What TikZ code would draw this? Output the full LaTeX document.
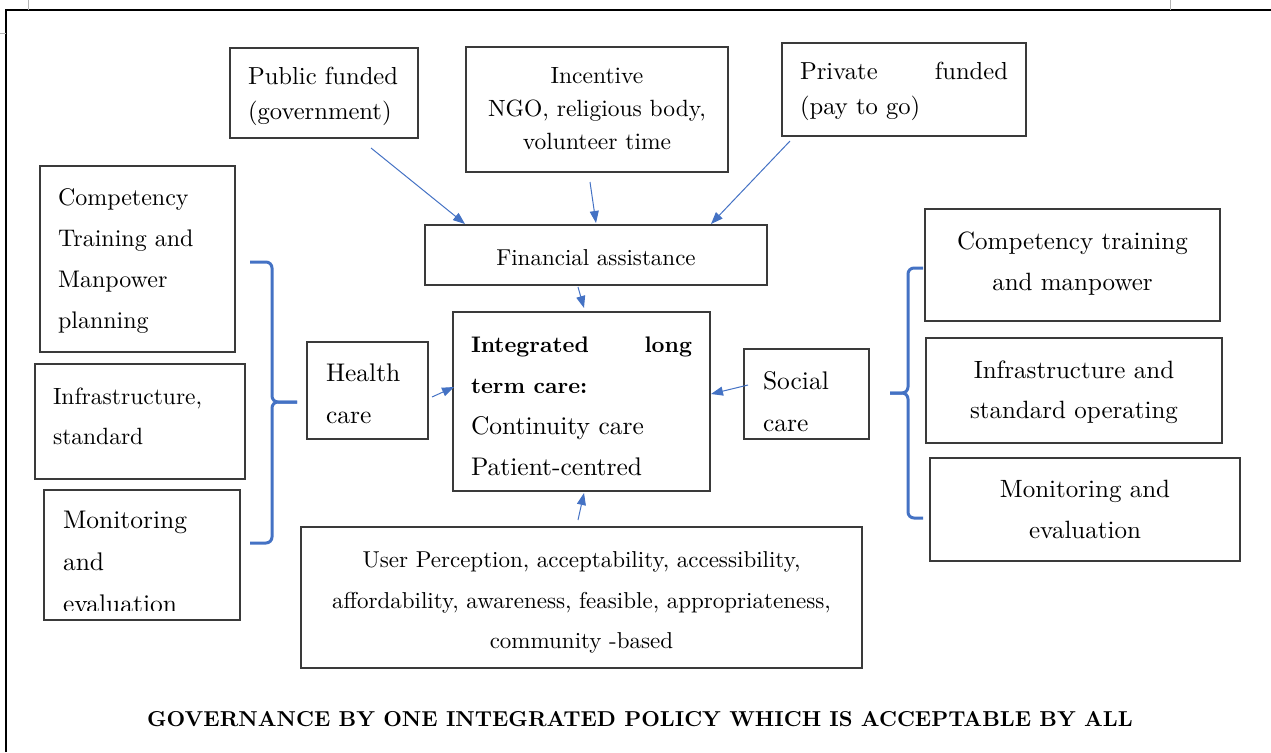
\documentclass[tikz,border=0pt]{standalone}
\usepackage{tikz}
\usetikzlibrary{arrows.meta}
% Latin Modern con el diseno de 10pt en todos los tamanos
\DeclareFontFamily{TU}{lmx}{}
\DeclareFontShape{TU}{lmx}{m}{n}{<-> "[lmroman10-regular]:mapping=tex-text"}{}
\DeclareFontShape{TU}{lmx}{bx}{n}{<-> "[lmroman10-bold]:mapping=tex-text"}{}
\DeclareFontShape{TU}{lmx}{b}{n}{<-> ssub * lmx/bx/n}{}
\renewcommand\rmdefault{lmx}
\definecolor{azulllave}{HTML}{4472C4}
\definecolor{grisborde}{HTML}{3A3A3A}
\definecolor{grismarca}{HTML}{B4B4B4}

\begin{document}
\begin{tikzpicture}[x=1pt, y=-1pt,
  box/.style={draw=grisborde, line width=1.1pt, anchor=north west,
    inner ysep=0pt, outer sep=0pt},
  izq/.style={box, align=left, inner xsep=18pt},
  cen/.style={box, align=center, inner xsep=10pt},
  flecha/.style={draw=azulllave, line width=1pt, -{Triangle[length=12pt,width=9pt]}},
  llave/.style={draw=azulllave, line width=3pt, rounded corners=6pt}
]
\useasboundingbox (0,0) rectangle (1271,752);

% marco de la pagina
\draw[line width=1.3pt] (6,752) -- (6,10) -- (1271,10);
\draw[grismarca, line width=0.6pt] (28,0) -- (28,10);
\draw[grismarca, line width=0.6pt] (0,33) -- (6,33);
\draw[grismarca, line width=0.6pt] (1170,0) -- (1170,10);

% financiacion
\node[izq, text width=152pt, minimum height=90pt, text height=25pt,
  font=\fontsize{24.6}{35}\selectfont]
  (pub) at (230,48) {Public funded\\(government)};
\node[cen, text width=242pt, minimum height=125pt, text height=14pt,
  font=\fontsize{23.5}{33}\selectfont]
  (inc) at (466,47) {Incentive\\NGO, religious body,\\volunteer time};
\node[izq, text width=208pt, minimum height=93pt, text height=21pt,
  font=\fontsize{24.6}{35}\selectfont]
  (priv) at (782,43) {Private\hfill funded\\(pay to go)};
\node[cen, text width=322pt, minimum height=60pt, text height=22pt,
  font=\fontsize{23}{30}\selectfont]
  (fin) at (425,225) {Financial assistance};

% centro
\node[izq, text width=221pt, minimum height=179pt, text height=25.6pt,
  font=\fontsize{25.5}{41}\selectfont]
  (integ) at (453,312) {{\fontsize{22.5}{41}\selectfont\bfseries Integrated\hfill long}\\
  {\fontsize{22.5}{41}\selectfont\bfseries term care:}\\Continuity care\\Patient-centred};
\node[izq, inner xsep=19pt, text width=83pt, minimum height=97pt, text height=23.7pt,
  font=\fontsize{25.5}{42}\selectfont]
  (health) at (307,342) {Health\\care};
\node[izq, inner xsep=19pt, text width=87pt, minimum height=90pt, text height=33.7pt,
  font=\fontsize{25.5}{42}\selectfont]
  (social) at (744,349) {Social\\care};
\node[cen, text width=541pt, minimum height=141pt, text height=26pt,
  font=\fontsize{23}{40.5}\selectfont]
  (user) at (301,527) {User Perception, acceptability, accessibility,\\
  affordability, awareness, feasible, appropriateness,\\community -based};

% lado izquierdo
\node[izq, text width=159pt, minimum height=186pt, text height=20.4pt,
  font=\fontsize{24}{41}\selectfont]
  (compL) at (40,166) {Competency\\Training and\\Manpower\\planning};
\node[izq, text width=174pt, minimum height=115pt, text height=6.3pt,
  font=\fontsize{23.5}{40}\selectfont]
  (infraL) at (35,364) {Infrastructure,\\standard};
\node[box, minimum width=196pt, minimum height=130pt] (monL) at (44,490) {};
\begin{scope}
  \clip (monL.north west) rectangle ([shift={(0,-10)}]monL.south east);
  \node[align=left, text width=170pt, inner sep=0pt, font=\fontsize{25.5}{42}\selectfont]
    (monLtxt) at (148,562) {Monitoring\\and\\evaluation};
\end{scope}

% lado derecho
\node[cen, text width=275pt, minimum height=112pt, text height=15pt,
  font=\fontsize{25}{41}\selectfont]
  (compR) at (925,209) {Competency training\\and manpower};
\node[cen, text width=276pt, minimum height=105pt, text height=20.4pt,
  font=\fontsize{25}{40}\selectfont]
  (infraR) at (926,338) {Infrastructure and\\standard operating};
\node[cen, text width=290pt, minimum height=103pt, font=\fontsize{25}{41}\selectfont]
  (monR) at (930,458) {Monitoring and\\evaluation};

% llaves
\draw[llave] (250,262) -- (272,262) -- (272,402) -- (297,402);
\draw[llave] (297,402) -- (272,402) -- (272,543) -- (250,543);
\draw[llave] (923,268) -- (908,268) -- (908,393) -- (890,393);
\draw[llave] (890,393) -- (908,393) -- (908,518) -- (923,518);

% flechas
\draw[flecha] ([shift={(47,10)}]pub.south) -- ([shift={(40,-1)}]fin.north west);
\draw[flecha] ([shift={(-7,10)}]inc.south) -- ([shift={(0,-2)}]fin.north);
\draw[flecha] ([shift={(8,5)}]priv.south west) -- ([shift={(-56,-1)}]fin.north east);
\draw[flecha] ([shift={(-18,2)}]fin.south) -- ([shift={(2.5,-4)}]integ.north);
\draw[flecha] ([shift={(4,6.5)}]health.east) -- ([shift={(1,-14.5)}]integ.west);
\draw[flecha] ([shift={(4,-9)}]social.west) -- ([shift={(1,-7.5)}]integ.east);
\draw[flecha] ([shift={(-3.5,-7)}]user.north) -- ([shift={(2.5,2)}]integ.south);

\node[font=\fontsize{21.6}{25}\selectfont\bfseries] (lema) at (640,719)
  {GOVERNANCE BY ONE INTEGRATED POLICY WHICH IS ACCEPTABLE BY ALL};
\end{tikzpicture}
\end{document}
